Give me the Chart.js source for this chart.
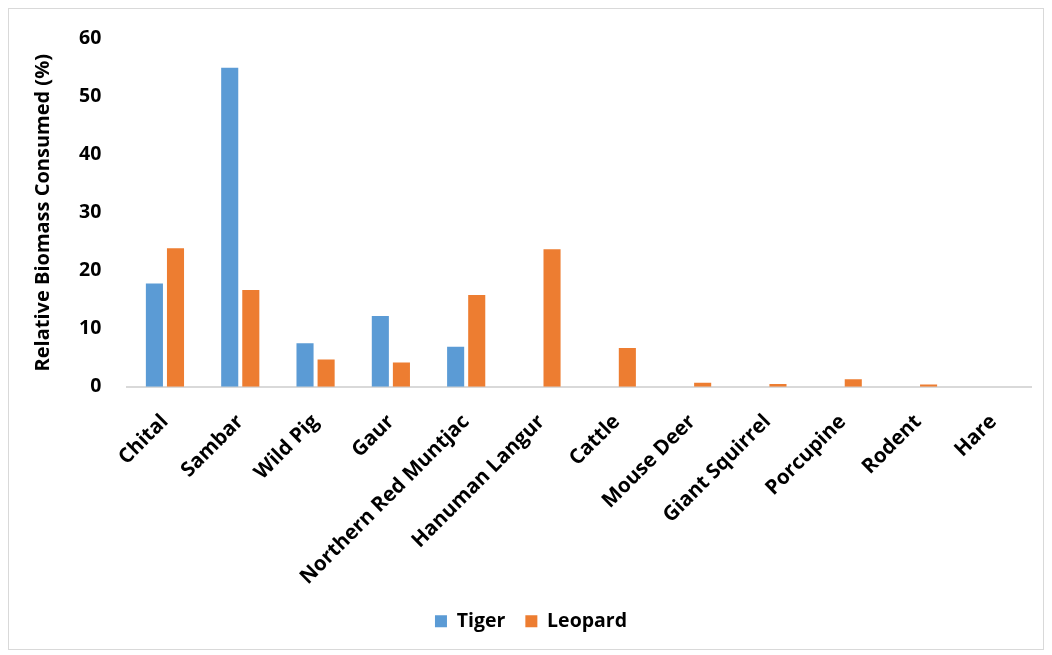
<!DOCTYPE html>
<html>
<head>
<meta charset="utf-8">
<script src="https://cdn.jsdelivr.net/npm/chart.js@4.4.1/dist/chart.umd.min.js"></script>
<style>
    html, body { margin: 0; padding: 0; background: #fff; }
    #frame {
        position: absolute; left: 8px; top: 8px;
        width: 1036px; height: 642px;
        border: 1px solid #d9d9d9; box-sizing: border-box;
    }
    #chart { display: block; }
</style>
</head>
<body>
<div id="frame"><canvas id="chart" width="1034" height="640"></canvas></div>
<script>
// Prey species and relative biomass consumed (%)
const preySpecies = ['Chital', 'Sambar', 'Wild Pig', 'Gaur', 'Northern Red Muntjac', 'Hanuman Langur',
    'Cattle', 'Mouse Deer', 'Giant Squirrel', 'Porcupine', 'Rodent', 'Hare'];
const tigerValues = [17.8, 55.0, 7.5, 12.2, 6.9, 0, 0, 0, 0, 0, 0, 0];
const leopardValues = [23.9, 16.7, 4.7, 4.2, 15.8, 23.7, 6.7, 0.7, 0.5, 1.3, 0.4, 0];
const yTicks = [0, 10, 20, 30, 40, 50, 60];

const fontFamily = '"Open Sans", sans-serif';

const ctx = document.getElementById('chart').getContext('2d');
new Chart(ctx, {
    type: 'bar',
    data: {
        labels: preySpecies,
        datasets: [
            {
                label: 'Tiger',
                data: tigerValues,
                backgroundColor: '#5b9bd5',
                barPercentage: 0.81,
                categoryPercentage: 0.56
            },
            {
                label: 'Leopard',
                data: leopardValues,
                backgroundColor: '#ed7d31',
                barPercentage: 0.81,
                categoryPercentage: 0.56
            }
        ]
    },
    options: {
        responsive: false,
        animation: false,
        layout: { padding: { left: 22, right: 12, top: 20, bottom: 8 } },
        scales: {
            x: {
                grid: { display: false },
                border: { color: '#d9d9d9', width: 2 },
                ticks: {
                    color: '#000',
                    maxRotation: 45,
                    minRotation: 45,
                    padding: 15,
                    font: { family: fontFamily, size: 20.5, weight: 'bold' }
                },
                // trim the reserved label space so the baseline sits lower
                afterFit: (axis) => { axis.height -= 13; }
            },
            y: {
                min: 0,
                max: 60,
                afterBuildTicks: (axis) => { axis.ticks = yTicks.map(v => ({ value: v })); },
                grid: { display: false },
                border: { display: false },
                ticks: {
                    color: '#000',
                    padding: 18,
                    font: { family: fontFamily, size: 19.5, weight: 'bold' }
                },
                title: {
                    display: true,
                    text: 'Relative Biomass Consumed (%)',
                    color: '#000',
                    padding: { top: 0, bottom: 6 },
                    font: { family: fontFamily, size: 20, weight: 'bold' }
                }
            }
        },
        plugins: {
            legend: {
                position: 'bottom',
                labels: {
                    color: '#000',
                    boxWidth: 12,
                    boxHeight: 12,
                    padding: 20,
                    font: { family: fontFamily, size: 19.5, weight: 'bold' }
                }
            },
            tooltip: { enabled: false }
        }
    }
});
</script>
</body>
</html>
